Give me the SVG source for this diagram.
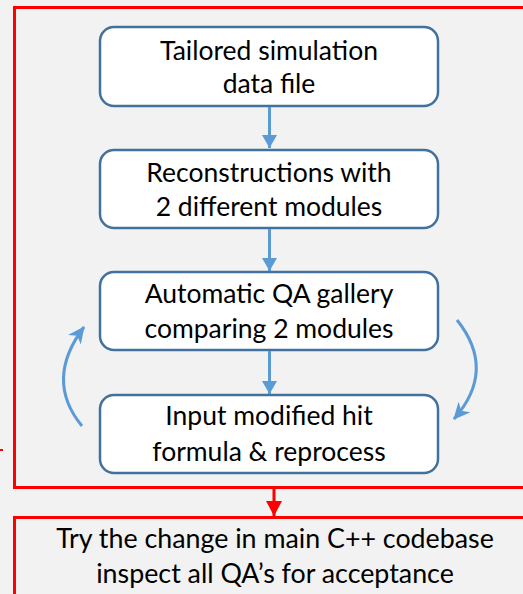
<svg xmlns="http://www.w3.org/2000/svg" width="523" height="594" viewBox="0 0 523 594">
<style>
.node rect{fill:#ffffff;stroke:#41719c;stroke-width:2.5}
.node text{font-family:Lato,"Liberation Sans",sans-serif;font-size:26.5px;fill:#000;text-anchor:middle}
.frame{fill:none;stroke:#ff0000;stroke-width:3}
.blue{stroke:#5b9bd5;stroke-width:3;fill:none}
.red{stroke:#ff0000;stroke-width:3;fill:none}
</style>
<defs>
<marker id="ahB" markerWidth="15" markerHeight="15" refX="13" refY="7.5" orient="auto" markerUnits="userSpaceOnUse">
<path d="M0,0 L13,7.5 L0,15 Z" fill="#5b9bd5"/>
</marker>
<marker id="ahR" markerWidth="16" markerHeight="16" refX="15" refY="8" orient="auto" markerUnits="userSpaceOnUse">
<path d="M0,0 L15,8 L0,16 Z" fill="#ff0000"/>
</marker>
<marker id="ahC" markerWidth="18" markerHeight="16" refX="16" refY="8" orient="auto" markerUnits="userSpaceOnUse">
<path d="M0,0 L17,8 L0,16 L5,8 Z" fill="#5b9bd5"/>
</marker>
</defs>
<rect x="0" y="0" width="523" height="594" fill="#f2f2f2"/>
<rect x="0" y="449" width="3" height="2" fill="#ff0000"/>
<rect id="outer-frame" class="frame" x="14.5" y="7.5" width="520" height="480"/>
<g id="final-step">
<rect class="frame" x="14.5" y="517.5" width="520" height="90"/>
<text x="275" y="548" font-family="Lato,'Liberation Sans',sans-serif" font-size="26.8" text-anchor="middle" fill="#000">Try the change in main C++ codebase</text>
<text x="275" y="583" font-family="Lato,'Liberation Sans',sans-serif" font-size="26.8" text-anchor="middle" fill="#000">inspect all QA’s for acceptance</text>
</g>
<g id="n1" class="node">
<rect x="100" y="27" width="338" height="79" rx="14"/>
<text x="269" y="60">Tailored simulation</text>
<text x="269" y="93">data file</text>
</g>
<g id="n2" class="node">
<rect x="100" y="150" width="338" height="78" rx="14"/>
<text x="269" y="182">Reconstructions with</text>
<text x="269" y="216">2 different modules</text>
</g>
<g id="n3" class="node">
<rect x="100" y="272" width="338" height="78" rx="14"/>
<text x="269" y="303">Automatic QA gallery</text>
<text x="269" y="338">comparing 2 modules</text>
</g>
<g id="n4" class="node">
<rect x="100" y="395" width="338" height="78" rx="14"/>
<text x="269" y="425">Input modified hit</text>
<text x="269" y="461">formula &amp; reprocess</text>
</g>
<g id="connectors">
<line class="blue" x1="269.5" y1="107" x2="269.5" y2="148" marker-end="url(#ahB)"/>
<line class="blue" x1="269.5" y1="229" x2="269.5" y2="271" marker-end="url(#ahB)"/>
<line class="blue" x1="269.5" y1="351" x2="269.5" y2="394" marker-end="url(#ahB)"/>
<path class="blue" d="M82,426 Q44,380 84,327" marker-end="url(#ahC)"/>
<path class="blue" d="M457,320 Q497,370 454,419" marker-end="url(#ahC)"/>
<line class="red" x1="274" y1="489" x2="274" y2="516" marker-end="url(#ahR)"/>
</g>
</svg>
